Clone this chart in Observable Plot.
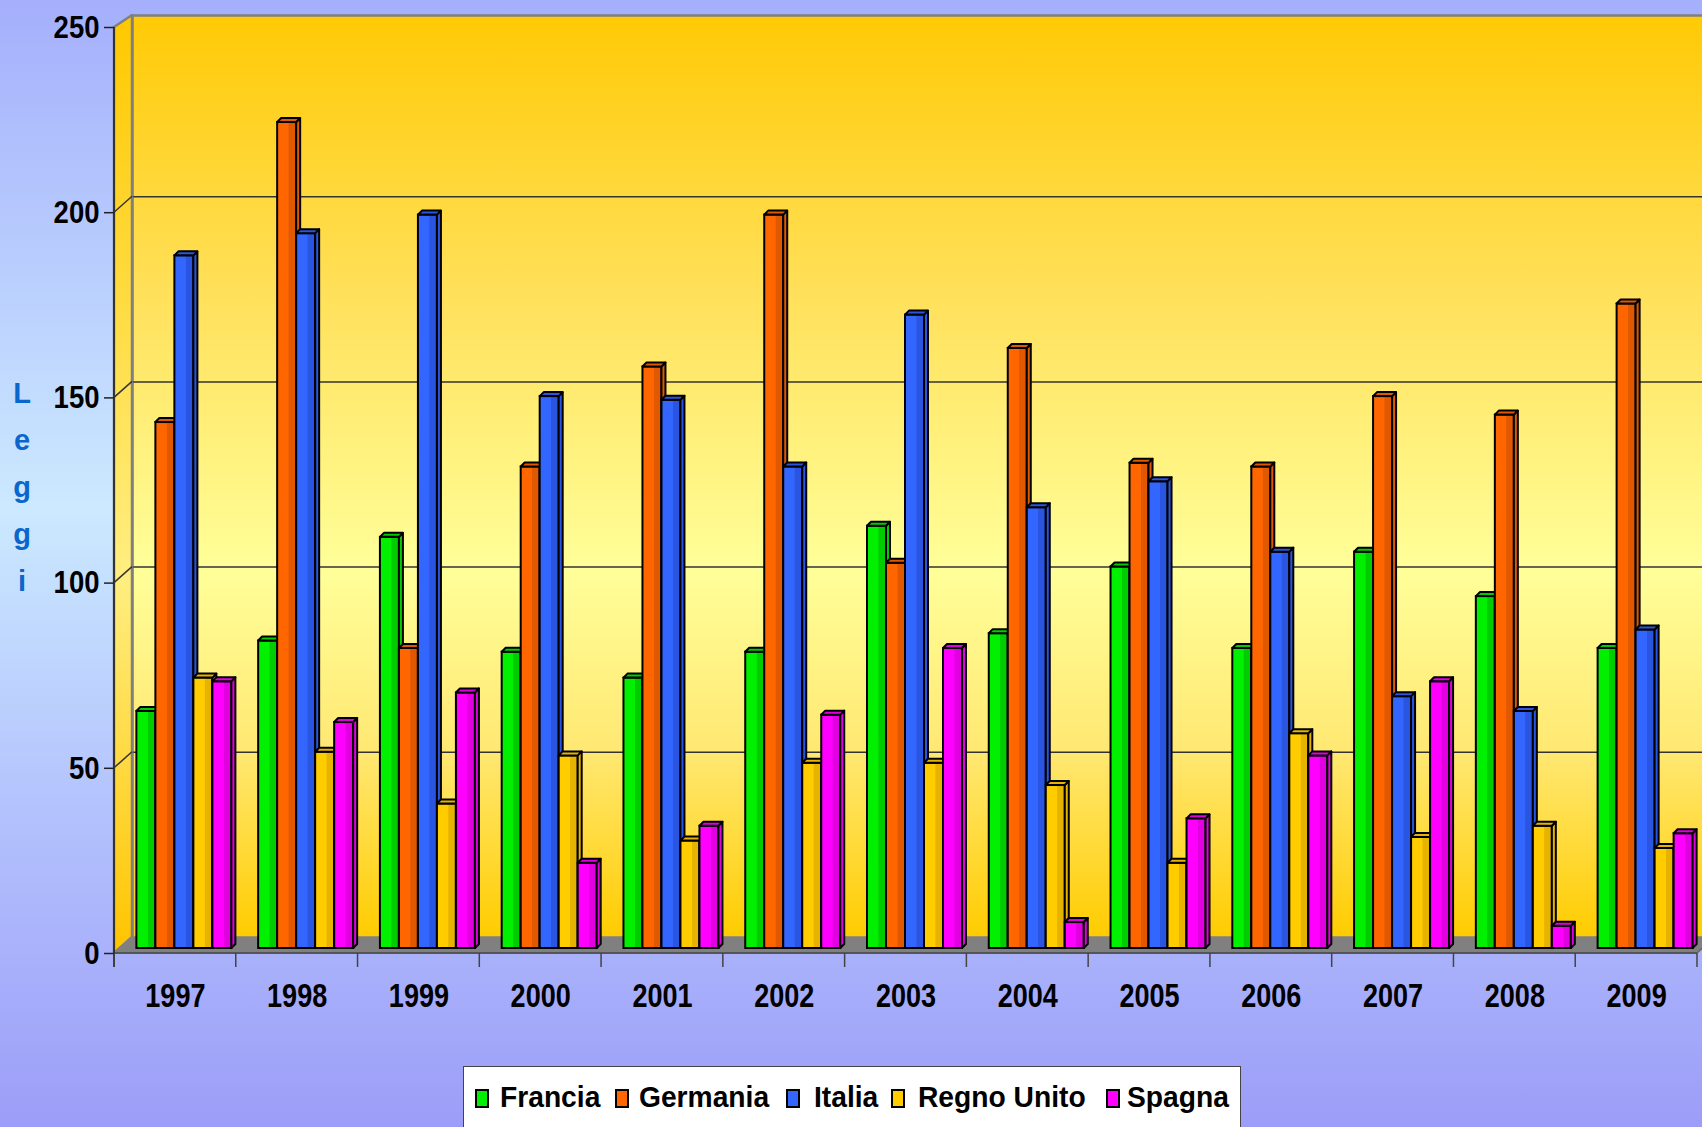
<!DOCTYPE html>
<html>
<head>
<meta charset="utf-8">
<script src="https://cdn.jsdelivr.net/npm/d3@7"></script>
<script src="https://cdn.jsdelivr.net/npm/@observablehq/plot@0.6"></script>
<style>
html, body { margin: 0; padding: 0; }
body {
  width: 1702px; height: 1127px; overflow: hidden; position: relative;
  background: linear-gradient(to bottom, #a5affc 0%, #cbe9ff 45%, #b3c2fd 72%, #9c9df8 100%);
  font-family: "Liberation Sans", Arial, sans-serif;
}
#chart { position: absolute; left: 0; top: 0; }
#ylabel {
  position: absolute; left: 8px; top: 370px; width: 28px; text-align: center;
  color: #0a66cc; font-weight: bold; font-size: 29px; line-height: 47px;
}
#legend {
  position: absolute; left: 463px; top: 1066px; width: 778px; height: 80px;
  background: #ffffff; border: 1px solid #444; box-sizing: border-box;
  font-weight: bold; font-size: 30px; color: #000;
}
.sw { position: absolute; top: 22px; width: 10px; height: 15px; border: 2px solid #000; }
.lt { position: absolute; top: 12px; line-height: 36px; white-space: nowrap; transform: scaleX(0.94); transform-origin: left center; }
</style>
</head>
<body>
<div id="chart"></div>
<div id="ylabel">L<br>e<br>g<br>g<br>i</div>
<div id="legend"></div>
<script>
// ---- data ----
const years = ["1997","1998","1999","2000","2001","2002","2003","2004","2005","2006","2007","2008","2009"];
const seriesNames = ["Francia","Germania","Italia","Regno Unito","Spagna"];
const francia    = [64, 83, 111, 80, 73, 80, 114, 85, 103, 81, 107, 95, 81];
const germania   = [142, 223, 81, 130, 157, 198, 104, 162, 131, 130, 149, 144, 174];
const italia     = [187, 193, 198, 149, 148, 130, 171, 119, 126, 107, 68, 64, 86];
const regnoUnito = [73, 53, 39, 52, 29, 50, 50, 44, 23, 58, 30, 33, 27];
const spagna     = [72, 61, 69, 23, 33, 63, 81, 7, 35, 52, 72, 6, 31];
const yTicks = [0, 50, 100, 150, 200, 250];
const gridTicks = [50, 100, 150, 200];

const seriesValues = [francia, germania, italia, regnoUnito, spagna];
const colors = ["#00f000", "#ff6600", "#3366ff", "#ffcc00", "#ff00ff"];
const darks  = ["#00cc00", "#e05800", "#2a55e0", "#e6b400", "#e000e0"];

// ---- layout ----
const W = 1702, H = 1050, ML = 114, MR = 5, MT = 27, MB = H - 953;
const DX = 18, DY = -16;   // depth of the 3D box
const BDY = -5;            // bars sit inside the floor depth
const BW = 19;             // bar width
const CAP = 4;             // bar depth
const bandW = (W - ML - MR) / years.length;
const legendSwatchX = [11, 151, 322, 427, 642];
const legendTextX   = [36, 175, 350, 454, 663];

const data = seriesNames.map((s, i) => years.map((y, j) => ({year: y, series: s, value: seriesValues[i][j], i})));

function bandStart(scales, year) { return scales.x(year); }
function bandWidth(scales) { return scales.x.bandwidth ? scales.x.bandwidth() : bandW; }

const svgNS = "http://www.w3.org/2000/svg";
function poly(g, pts, fill, stroke, sw) {
  const p = document.createElementNS(svgNS, "polygon");
  p.setAttribute("points", pts.map(d => d.join(",")).join(" "));
  p.setAttribute("fill", fill);
  if (stroke) { p.setAttribute("stroke", stroke); p.setAttribute("stroke-width", sw); p.setAttribute("stroke-linejoin", "round"); }
  g.appendChild(p);
}
function line(g, x1, y1, x2, y2, stroke, sw) {
  const l = document.createElementNS(svgNS, "line");
  l.setAttribute("x1", x1); l.setAttribute("y1", y1); l.setAttribute("x2", x2); l.setAttribute("y2", y2);
  l.setAttribute("stroke", stroke); l.setAttribute("stroke-width", sw);
  g.appendChild(l);
}

// side wall + grid connectors
function sideWall(index, scales) {
  const g = document.createElementNS(svgNS, "g");
  const yTop = scales.y(250), y0 = scales.y(0);
  poly(g, [[ML, yTop], [ML + DX, yTop + DY + 4], [ML + DX, y0 + DY], [ML, y0]], "url(#side)", "#808080", 2.5);
  for (const v of gridTicks) {
    line(g, ML, scales.y(v), ML + DX, scales.y(v) + DY, "#333", 1.5);
  }
  return g;
}
// floor
function floor(index, scales) {
  const g = document.createElementNS(svgNS, "g");
  const y0 = scales.y(0);
  const xEnd = bandStart(scales, years[years.length - 1]) + bandWidth(scales);
  poly(g, [[ML, y0], [ML + DX, y0 + DY], [xEnd + DX, y0 + DY], [xEnd, y0]], "#808080", null, 0);
  return g;
}
// front axes lines and ticks between categories
function axesLines(index, scales) {
  const g = document.createElementNS(svgNS, "g");
  const y0 = scales.y(0);
  const bw = bandWidth(scales);
  const xEnd = bandStart(scales, years[years.length - 1]) + bw;
  line(g, ML, y0, xEnd, y0, "#555", 2);
  line(g, xEnd, y0, xEnd + DX, y0 + DY, "#666", 1.5);
  line(g, ML, scales.y(250), ML, y0 + 14, "#333", 2);
  const bounds = years.map(y => bandStart(scales, y)).concat([xEnd]);
  for (const bx of bounds) line(g, bx, y0, bx, y0 + 14, "#444", 1.5);
  return g;
}

// 3D parts (side face + cap) for one series
function depthParts(i) {
  const o = (i - 2) * BW + DX / 2;
  return function (index, scales) {
    const g = document.createElementNS(svgNS, "g");
    const bw = bandWidth(scales);
    const yB = scales.y(0) + BDY;
    for (const d of data[i]) {
      const xL = bandStart(scales, d.year) + bw / 2 + o - BW / 2;
      const xR = xL + BW;
      const yT = scales.y(d.value) + BDY;
      poly(g, [[xR, yT], [xR + CAP, yT - CAP], [xR + CAP, yB - CAP], [xR, yB]], darks[i], "#000", 2);
      poly(g, [[xL, yT], [xR, yT], [xR + CAP, yT - CAP], [xL + CAP, yT - CAP]], darks[i], "#000", 2);
    }
    return g;
  };
}

const marks = [
  Plot.frame({fill: "url(#wall)", stroke: "#808080", strokeWidth: 2.5, dx: DX, dy: DY, insetTop: 4}),
  Plot.ruleY(gridTicks, {y: d => d, stroke: "#333", strokeWidth: 1.5, dx: DX, dy: DY}),
  Plot.ruleY([0], {render: sideWall}),
  Plot.ruleY([0], {render: floor}),
  Plot.ruleY([0], {render: axesLines})
];
seriesNames.forEach((s, i) => {
  const o = (i - 2) * BW + DX / 2;
  marks.push(Plot.barY(data[i], {
    x: "year", y: "value", fill: `url(#g${i})`, stroke: "#000", strokeWidth: 2,
    insetLeft: bandW / 2 - BW / 2 + o, insetRight: bandW / 2 - BW / 2 - o, dy: BDY
  }));
  marks.push(Plot.ruleY([0], {render: depthParts(i)}));
});
marks.push(Plot.axisY(yTicks, {anchor: "left", tickSize: 10, tickPadding: 5, stroke: "#222", strokeWidth: 1.5,
  fill: "#000", fontSize: 32, fontWeight: "bold", label: null, ariaLabel: "y-axis"}));
marks.push(Plot.axisX({tickSize: 0, tickPadding: 30, fill: "#000", fontSize: 33, fontWeight: "bold", label: null, ariaLabel: "x-axis"}));

const chart = Plot.plot({
  width: W, height: H,
  marginLeft: ML, marginRight: MR, marginTop: MT, marginBottom: MB,
  x: {type: "band", domain: years, padding: 0, round: false},
  y: {domain: [0, 250]},
  style: {background: "transparent", fontFamily: "'Liberation Sans', Arial, sans-serif", overflow: "visible"},
  marks
});

// condense axis label text (narrow bold look)
const svg = d3.select(chart);
svg.selectAll("text").each(function () {
  const t = this.textContent.trim();
  const isYear = years.includes(t);
  const isTick = yTicks.map(String).includes(t);
  if (!isYear && !isTick) return;
  const tr = this.getAttribute("transform") || "";
  this.setAttribute("transform", tr + (isYear ? " scale(0.82,1)" : " scale(0.86,1)"));
});

// gradient defs
const defs = svg.insert("defs", ":first-child");
const wall = defs.append("linearGradient").attr("id", "wall").attr("x1", 0).attr("y1", 0).attr("x2", 0).attr("y2", 1);
[[0, "#ffca05"], [0.3, "#ffe05a"], [0.6, "#ffff99"], [0.8, "#ffe872"], [1, "#ffcc00"]]
  .forEach(([o, c]) => wall.append("stop").attr("offset", o).attr("stop-color", c));
const side = defs.append("linearGradient").attr("id", "side").attr("x1", 0).attr("y1", 0).attr("x2", 0).attr("y2", 1);
[[0, "#ffc800"], [0.6, "#ffee80"], [1, "#ffc400"]]
  .forEach(([o, c]) => side.append("stop").attr("offset", o).attr("stop-color", c));
colors.forEach((c, i) => {
  const lg = defs.append("linearGradient").attr("id", `g${i}`).attr("x1", 0).attr("y1", 0).attr("x2", 1).attr("y2", 0);
  [[0, c], [0.58, c], [0.62, darks[i]], [1, darks[i]]]
    .forEach(([o, cc]) => lg.append("stop").attr("offset", o).attr("stop-color", cc));
});
document.getElementById("chart").appendChild(chart);

// legend
const legend = document.getElementById("legend");
seriesNames.forEach((s, i) => {
  const sw = document.createElement("span");
  sw.className = "sw"; sw.style.background = colors[i]; sw.style.left = legendSwatchX[i] + "px";
  const t = document.createElement("span");
  t.className = "lt"; t.textContent = s; t.style.left = legendTextX[i] + "px";
  legend.appendChild(sw); legend.appendChild(t);
});
</script>
</body>
</html>
